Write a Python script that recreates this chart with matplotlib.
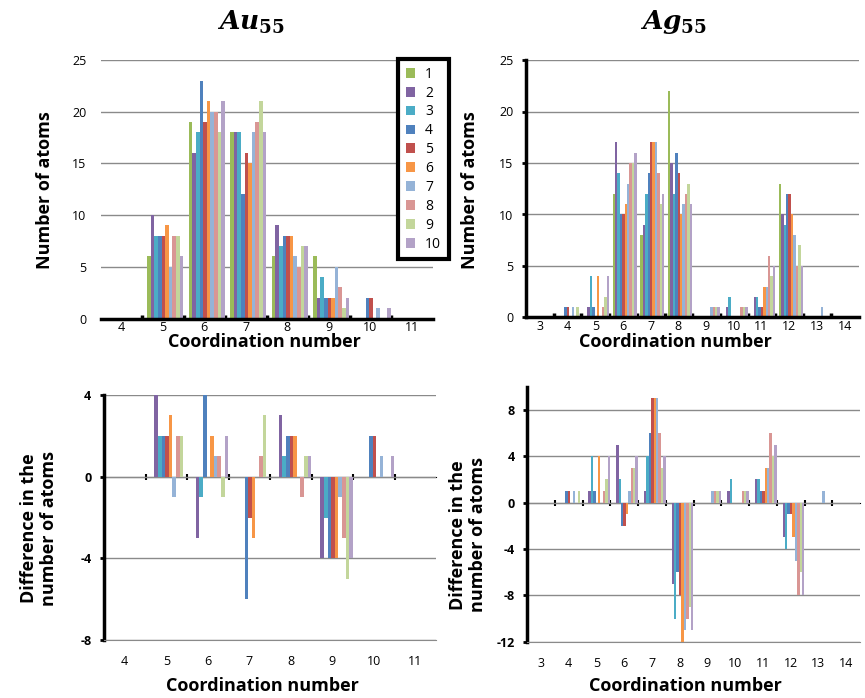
import numpy as np
import matplotlib
matplotlib.use("Agg")
import matplotlib.pyplot as plt

plt.rcParams['font.family'] = ['Open Sans', 'DejaVu Sans']
plt.rcParams['axes.unicode_minus'] = False
plt.rcParams['mathtext.fontset'] = 'custom'
plt.rcParams['mathtext.it'] = 'DejaVu Serif:italic:bold'
plt.rcParams['mathtext.rm'] = 'DejaVu Serif:bold'

series_labels = ['1', '2', '3', '4', '5', '6', '7', '8', '9', '10']
series_colors = ['#9BBB59', '#8064A2', '#4BACC6', '#4F81BD', '#C0504D',
                 '#F79646', '#95B3D7', '#D99694', '#C3D69B', '#B3A2C7']

# Au55: coordination numbers 4..11, one row per structure 1..10
au_cn = [4, 5, 6, 7, 8, 9, 10, 11]
au_counts = [
    [0, 6, 19, 18, 6, 6, 0, 0],
    [0, 10, 16, 18, 9, 2, 0, 0],
    [0, 8, 18, 18, 7, 4, 0, 0],
    [0, 8, 23, 12, 8, 2, 2, 0],
    [0, 8, 19, 16, 8, 2, 2, 0],
    [0, 9, 21, 15, 8, 2, 0, 0],
    [0, 5, 20, 18, 6, 5, 1, 0],
    [0, 8, 20, 19, 5, 3, 0, 0],
    [0, 8, 18, 21, 7, 1, 0, 0],
    [0, 6, 21, 18, 7, 2, 1, 0],
]
au_diff = [
    [0, 0, 0, 0, 0, 0, 0, 0],
    [0, 4, -3, 0, 3, -4, 0, 0],
    [0, 2, -1, 0, 1, -2, 0, 0],
    [0, 2, 4, -6, 2, -4, 2, 0],
    [0, 2, 0, -2, 2, -4, 2, 0],
    [0, 3, 2, -3, 2, -4, 0, 0],
    [0, -1, 1, 0, 0, -1, 1, 0],
    [0, 2, 1, 1, -1, -3, 0, 0],
    [0, 2, -1, 3, 1, -5, 0, 0],
    [0, 0, 2, 0, 1, -4, 1, 0],
]

# Ag55: coordination numbers 3..14
ag_cn = [3, 4, 5, 6, 7, 8, 9, 10, 11, 12, 13, 14]
ag_counts = [
    [0, 0, 0, 12, 8, 22, 0, 0, 0, 13, 0, 0],
    [0, 0, 1, 17, 9, 15, 0, 1, 2, 10, 0, 0],
    [0, 0, 4, 14, 12, 12, 0, 2, 2, 9, 0, 0],
    [0, 1, 1, 10, 14, 16, 0, 0, 1, 12, 0, 0],
    [0, 1, 0, 10, 17, 14, 0, 0, 1, 12, 0, 0],
    [0, 0, 4, 11, 17, 10, 0, 0, 3, 10, 0, 0],
    [0, 1, 0, 13, 17, 11, 1, 0, 3, 8, 1, 0],
    [0, 0, 1, 15, 14, 12, 1, 1, 6, 5, 0, 0],
    [0, 1, 2, 15, 11, 13, 1, 1, 4, 7, 0, 0],
    [0, 0, 4, 16, 12, 11, 1, 1, 5, 5, 0, 0],
]
ag_diff = [
    [0, 0, 0, 0, 0, 0, 0, 0, 0, 0, 0, 0],
    [0, 0, 1, 5, 1, -7, 0, 1, 2, -3, 0, 0],
    [0, 0, 4, 2, 4, -10, 0, 2, 2, -4, 0, 0],
    [0, 1, 1, -2, 6, -6, 0, 0, 1, -1, 0, 0],
    [0, 1, 0, -2, 9, -8, 0, 0, 1, -1, 0, 0],
    [0, 0, 4, -1, 9, -12, 0, 0, 3, -3, 0, 0],
    [0, 1, 0, 1, 9, -11, 1, 0, 3, -5, 1, 0],
    [0, 0, 1, 3, 6, -10, 1, 1, 6, -8, 0, 0],
    [0, 1, 2, 3, 3, -9, 1, 1, 4, -6, 0, 0],
    [0, 0, 4, 4, 4, -11, 1, 1, 5, -8, 0, 0],
]

W, H = 865, 698
GRID = '#8a8a8a'


def px_axes(fig, left, top, right, bottom):
    return fig.add_axes([left / W, 1 - bottom / H, (right - left) / W, (bottom - top) / H])


def draw_bars(ax, cn, rows, pad):
    x = np.arange(len(cn))
    w = 0.087
    for i, row in enumerate(rows):
        ax.bar(x + 0.06 + (i - 4.5) * w, row, w, color=series_colors[i],
               label=series_labels[i], zorder=2, linewidth=0)
    ax.set_xlim(-0.5, len(cn) - 0.5)
    ax.set_xticks(x[:-1] + 0.5)
    ax.set_xticklabels([])
    ax.set_xticks(x, minor=True)
    ax.set_xticklabels([str(c) for c in cn], minor=True, fontsize=9)
    ax.tick_params(axis='x', which='minor', length=0, pad=pad)
    ax.set_axisbelow(True)
    ax.yaxis.grid(True, color=GRID, linewidth=1)
    for s in ['top', 'right']:
        ax.spines[s].set_visible(False)


fig = plt.figure(figsize=(W / 100, H / 100), dpi=100)

# top-left: Au counts
ax1 = px_axes(fig, 100.5, 60, 432.5, 318.5)
draw_bars(ax1, au_cn, au_counts, 2)
ax1.set_ylim(0, 25)
ax1.set_yticks([0, 5, 10, 15, 20, 25])
ax1.spines['left'].set_visible(False)
ax1.spines['bottom'].set_linewidth(2.5)
ax1.tick_params(axis='y', length=0, labelsize=9, pad=10)
ax1.tick_params(axis='x', which='major', direction='in', length=3, width=2.5)

# top-right: Ag counts
ax2 = px_axes(fig, 526, 60, 858.5, 317.5)
draw_bars(ax2, ag_cn, ag_counts, 2)
ax2.set_ylim(0, 25)
ax2.set_yticks([0, 5, 10, 15, 20, 25])
ax2.spines['left'].set_linewidth(2.5)
ax2.spines['bottom'].set_linewidth(2.5)
ax2.tick_params(axis='y', direction='out', length=3, width=2, labelsize=9, pad=6)
ax2.tick_params(axis='x', which='major', direction='in', length=3, width=2.5)


def diff_axes(ax, lo, hi, ticks):
    ax.set_ylim(lo, hi)
    ax.set_yticks(ticks)
    for t in ax.get_yticklabels():
        t.set_fontweight('bold')
    ax.spines['left'].set_linewidth(2.5)
    ax.spines['bottom'].set_color(GRID)
    ax.tick_params(axis='y', direction='out', length=3, width=2, labelsize=9, pad=6)
    ax.tick_params(axis='x', which='major', length=0)
    zero = ax.secondary_xaxis((0 - lo) / (hi - lo))
    zero.spines['bottom'].set_linewidth(2)
    zero.set_xticks(ax.get_xticks())
    zero.set_xticklabels([])
    zero.tick_params(axis='x', direction='inout', length=5, width=1.5)
    zero.tick_params(axis='x', which='minor', length=0)


# bottom-left: Au difference
ax3 = px_axes(fig, 104, 395, 436, 640)
draw_bars(ax3, au_cn, au_diff, 11)
diff_axes(ax3, -8, 4, [-8, -4, 0, 4])

# bottom-right: Ag difference
ax4 = px_axes(fig, 527, 386.7, 860, 641.7)
draw_bars(ax4, ag_cn, ag_diff, 11)
diff_axes(ax4, -12, 10, [-12, -8, -4, 0, 4, 8])

# titles and axis labels
fig.text(251 / W, 1 - 22 / H, r'$Au_{55}$', fontsize=19, ha='center', va='center')
fig.text(674 / W, 1 - 22 / H, r'$Ag_{55}$', fontsize=19, ha='center', va='center')
lab = dict(fontsize=13, fontweight='bold', ha='center', va='center')
fig.text(45 / W, 1 - 190 / H, 'Number of atoms', rotation=90, **lab)
fig.text(470 / W, 1 - 190 / H, 'Number of atoms', rotation=90, **lab)
fig.text(39 / W, 1 - 528 / H, 'Difference in the\nnumber of atoms', rotation=90,
         linespacing=1.2, **lab)
fig.text(468 / W, 1 - 535 / H, 'Difference in the\nnumber of atoms', rotation=90,
         linespacing=1.2, **lab)
fig.text(264 / W, 1 - 342 / H, 'Coordination number', **lab)
fig.text(675 / W, 1 - 342 / H, 'Coordination number', **lab)
fig.text(262 / W, 1 - 686 / H, 'Coordination number', **lab)
fig.text(685 / W, 1 - 686 / H, 'Coordination number', **lab)

handles, labels = ax1.get_legend_handles_labels()
leg = fig.legend(handles, labels, loc='upper left', bbox_to_anchor=(398 / W, 1 - 59 / H),
                 fancybox=False, edgecolor='black', framealpha=1, fontsize=10,
                 handlelength=0.7, handleheight=0.7, handletextpad=0.7,
                 labelspacing=0.28, borderpad=0.55, borderaxespad=0)
leg.get_frame().set_linewidth(3)

fig.savefig('out.png', dpi=100)
